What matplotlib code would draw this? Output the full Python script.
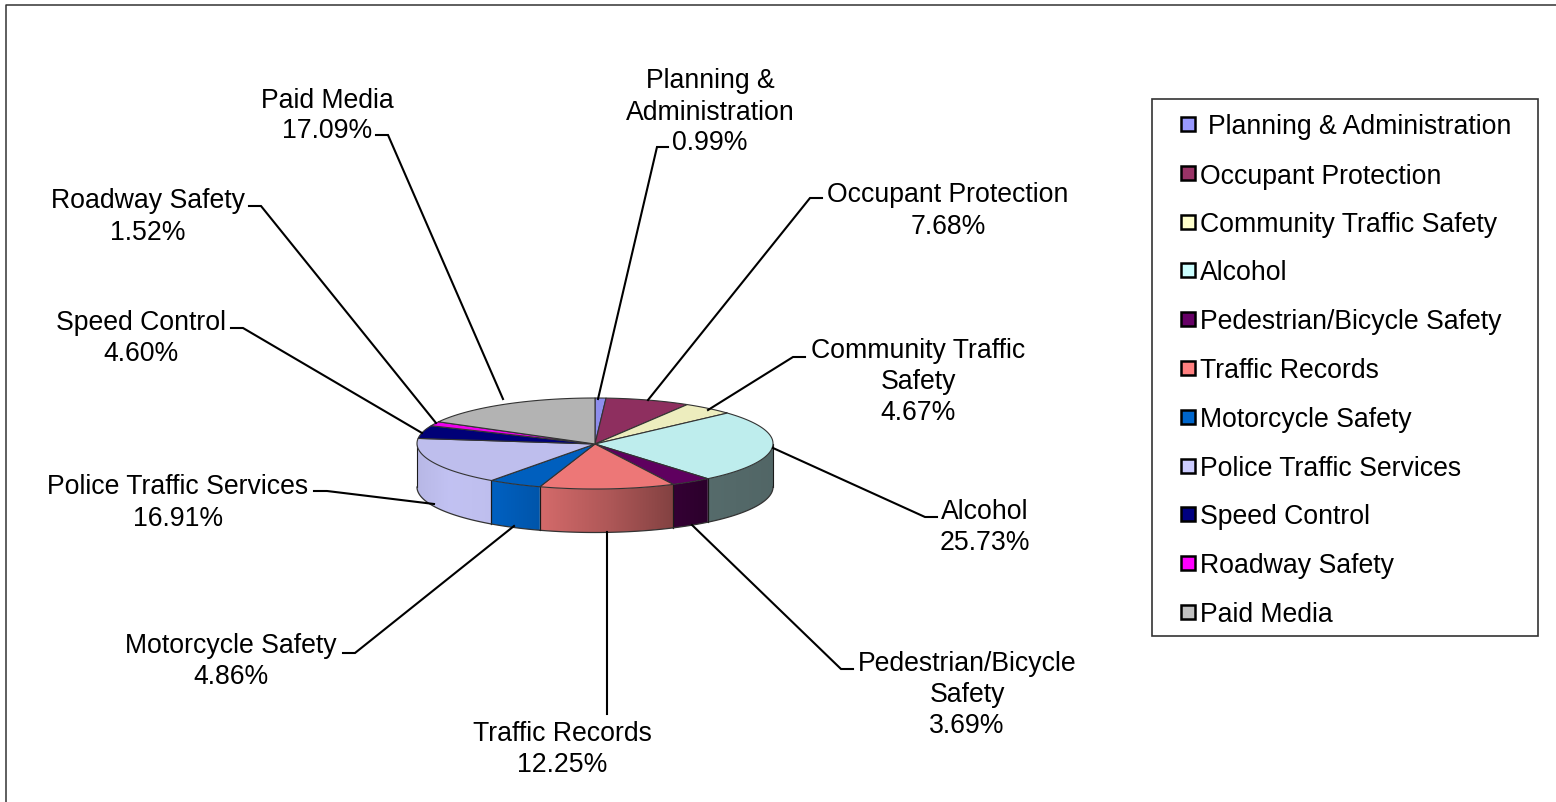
import numpy as np
import matplotlib
matplotlib.use("Agg")
import matplotlib.pyplot as plt
from matplotlib.patches import Polygon, Rectangle

categories = ["Planning & Administration", "Occupant Protection", "Community Traffic Safety",
              "Alcohol", "Pedestrian/Bicycle Safety", "Traffic Records", "Motorcycle Safety",
              "Police Traffic Services", "Speed Control", "Roadway Safety", "Paid Media"]
values = [0.99, 7.68, 4.67, 25.73, 3.69, 12.25, 4.86, 16.91, 4.60, 1.52, 17.09]
colors = ["#9999FF", "#993366", "#FFFFCC", "#CCFFFF", "#660066", "#FF8080",
          "#0066CC", "#CCCCFF", "#000080", "#FF00FF", "#C0C0C0"]
label_texts = ["Planning &\nAdministration\n0.99%", "Occupant Protection\n7.68%",
               "Community Traffic\nSafety\n4.67%", "Alcohol\n25.73%",
               "Pedestrian/Bicycle\nSafety\n3.69%", "Traffic Records\n12.25%",
               "Motorcycle Safety\n4.86%", "Police Traffic Services\n16.91%",
               "Speed Control\n4.60%", "Roadway Safety\n1.52%", "Paid Media\n17.09%"]

W, H = 1556, 803
plt.rcParams['font.family'] = ['Liberation Sans', 'DejaVu Sans']
FS = 19.2
fig = plt.figure(figsize=(W / 100, H / 100), dpi=100, facecolor="white")
ax = fig.add_axes([0, 0, 1, 1])

# frame
ax.plot([6.5, 6.5, W], [H, 5.5, 5.5], color="#333333", lw=1.1, zorder=1)

# pie geometry
cx, cy, rx, ry, depth = 595, 444.5, 178, 45.5, 43.5
fracs = np.array(values) / sum(values)
edges = np.concatenate([[0], np.cumsum(fracs)]) * 2 * np.pi


def shade(c, f):
    return tuple(np.clip(np.array(matplotlib.colors.to_rgb(c)) * f, 0, 1))


def ell(t):
    return cx + rx * np.sin(t), cy - ry * np.cos(t)


# side walls (front half only), shaded left to right
for i, c in enumerate(colors):
    a, b = max(edges[i], np.pi / 2), min(edges[i + 1], 3 * np.pi / 2)
    if a >= b:
        continue
    ts = np.linspace(a, b, 100)
    xs, ys = ell(ts)
    xmin, xmax = xs.min(), xs.max()
    gx = np.linspace(xmin, xmax, 200)
    f = np.interp(gx, [417, 450, 500, 545, 610, 670, 710, 773],
                  [0.90, 0.95, 0.93, 0.82, 0.68, 0.52, 0.42, 0.40])
    rgb = np.clip(np.array(matplotlib.colors.to_rgb(c))[None, None, :] * f[None, :, None], 0, 1)
    im = ax.imshow(rgb, extent=(xmin, xmax, ys.max() + depth, ys.min()), aspect="auto",
                   interpolation="bilinear", zorder=2)
    poly = Polygon(list(zip(xs, ys)) + list(zip(xs[::-1], ys[::-1] + depth)), closed=True,
                   fc="none", ec="none", transform=ax.transData)
    ax.add_patch(poly)
    im.set_clip_path(poly)
    ax.plot([xs[0], xs[0]], [ys[0], ys[0] + depth], color="#1a1a1a", lw=0.8, zorder=3)
    ax.plot([xs[-1], xs[-1]], [ys[-1], ys[-1] + depth], color="#1a1a1a", lw=0.8, zorder=3)
    ax.plot(xs, ys + depth, color="#333333", lw=0.9, zorder=3)

# top wedges
for i, c in enumerate(colors):
    ts = np.linspace(edges[i], edges[i + 1], 120)
    xs, ys = ell(ts)
    pts = [(cx, cy + 0.5)] + list(zip(xs, ys))
    ax.add_patch(Polygon(pts, closed=True, fc=shade(c, 0.93), ec="#333333", lw=0.8, zorder=4,
                         joinstyle="round"))

# data labels and leader lines
label_pos = [(710, 112.5), (948, 211), (918, 382), (985, 528), (967, 695), (562, 750),
             (231, 662), (178, 503), (141, 339), (148, 217), (327, 116)]
leaders = [[(598, 400), (657, 148), (668, 148)],
           [(648, 401), (810, 199), (822, 199)],
           [(708, 411), (793, 358), (805, 358)],
           [(773, 449), (925, 518), (937, 518)],
           [(692, 526), (841, 670), (853, 670)],
           [(607, 533), (607, 715)],
           [(514, 527), (355, 654), (343, 654)],
           [(434, 505), (327, 492), (314, 492)],
           [(422, 434), (243, 329), (231, 329)],
           [(436, 424), (261, 207), (249, 207)],
           [(503, 400), (388, 136), (376, 136)]]
for txt, (x, y), line in zip(label_texts, label_pos, leaders):
    ax.text(x, y, txt, ha="center", va="center", fontsize=FS, color="black",
            linespacing=1.25, zorder=6)
    ax.plot(*zip(*line), color="black", lw=1.5, zorder=5, solid_joinstyle="miter")

# legend
ax.add_patch(Rectangle((1152.5, 99.5), 386, 537, fc="white", ec="#333333", lw=1.2, zorder=2))
leg_y = [125, 174, 223, 271, 320, 369, 418, 467, 515, 564, 613]
for i, (name, c, y) in enumerate(zip(categories, colors, leg_y)):
    ax.add_patch(Rectangle((1181.5, y - 7), 13.5, 14, fc=c, ec="black", lw=1.8, zorder=3))
    ax.text(1208 if i == 0 else 1200, y - 0.5, name, ha="left", va="center_baseline", fontsize=FS,
            color="black", zorder=3)

ax.set_xlim(0, W)
ax.set_ylim(H, 0)
ax.axis("off")
fig.savefig("out.png", dpi=100, facecolor="white")
